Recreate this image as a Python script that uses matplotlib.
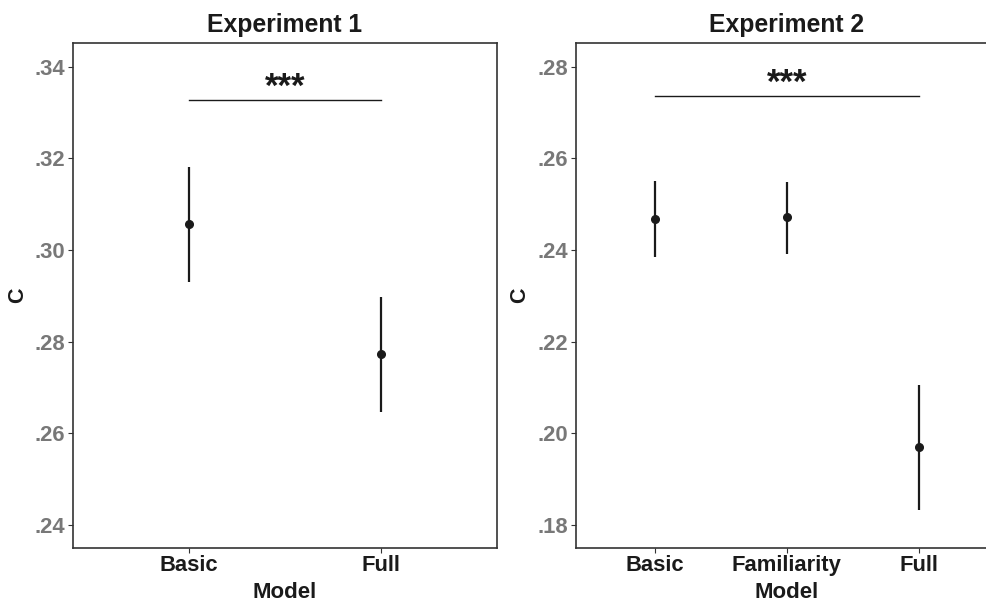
import numpy as np
import matplotlib
matplotlib.use("Agg")
import matplotlib.pyplot as plt
from matplotlib.ticker import FuncFormatter

plt.rcParams['font.family'] = ['Liberation Sans', 'DejaVu Sans']

# data
exp1_models = ['Basic', 'Full']
exp1_mean = [0.3057, 0.2772]
exp1_lo = [0.2931, 0.2647]
exp1_hi = [0.3182, 0.2898]
exp1_ticks = [0.24, 0.26, 0.28, 0.30, 0.32, 0.34]
exp1_sig = 0.3327

exp2_models = ['Basic', 'Familiarity', 'Full']
exp2_mean = [0.2468, 0.2471, 0.1970]
exp2_lo = [0.2385, 0.2392, 0.1833]
exp2_hi = [0.2551, 0.2548, 0.2106]
exp2_ticks = [0.18, 0.20, 0.22, 0.24, 0.26, 0.28]
exp2_sig = 0.2735

W, H = 987, 606
fig = plt.figure(figsize=(W / 100, H / 100), dpi=100)


def px(l, t, r, b):
    return [l / W, 1 - b / H, (r - l) / W, (b - t) / H]


def panel(ax, models, mean, lo, hi, ticks, sig, ylim, title):
    x = np.arange(1, len(models) + 1)
    mean = np.array(mean)
    err = [mean - np.array(lo), np.array(hi) - mean]
    ax.errorbar(x, mean, yerr=err, fmt='o', color='#1a1a1a', ms=5.5,
                elinewidth=1.6, capsize=0, zorder=3)
    ax.plot([x[0], x[-1]], [sig, sig], color='#1a1a1a', lw=1.0)
    ax.text((x[0] + x[-1]) / 2, sig - 0.0008, '***', ha='center', va='bottom',
            fontsize=25, fontweight='bold', color='#1a1a1a')
    ax.set_xlim(0.4, len(models) + 0.6)
    ax.set_ylim(*ylim)
    ax.set_xticks(x)
    ax.set_xticklabels(models, fontsize=15.8, fontweight='bold', color='#1a1a1a')
    ax.set_yticks(ticks)
    ax.yaxis.set_major_formatter(FuncFormatter(lambda v, p: ('%.2f' % v).lstrip('0')))
    for lab in ax.get_yticklabels():
        lab.set_fontsize(15.8)
        lab.set_fontweight('bold')
        lab.set_color('#787878')
    ax.tick_params(length=3.5, width=0.8, color='#333333', pad=2)
    for s in ax.spines.values():
        s.set_color('#333333')
        s.set_linewidth(1.2)
    ax.set_xlabel('Model', fontsize=16, fontweight='bold', color='#1a1a1a', labelpad=4)
    ax.set_ylabel('C', fontsize=15.5, fontweight='bold', color='#1a1a1a', labelpad=5)
    ax.set_title(title, fontsize=17.8, fontweight='bold', color='#1a1a1a', pad=8)


ax1 = fig.add_axes(px(73, 43.3, 497, 547.7))
panel(ax1, exp1_models, exp1_mean, exp1_lo, exp1_hi, exp1_ticks, exp1_sig,
      (0.2350, 0.3451), 'Experiment 1')

ax2 = fig.add_axes(px(575.6, 43.3, 998, 547.7))
panel(ax2, exp2_models, exp2_mean, exp2_lo, exp2_hi, exp2_ticks, exp2_sig,
      (0.1750, 0.2851), 'Experiment 2')

fig.savefig('out.png', dpi=100)
